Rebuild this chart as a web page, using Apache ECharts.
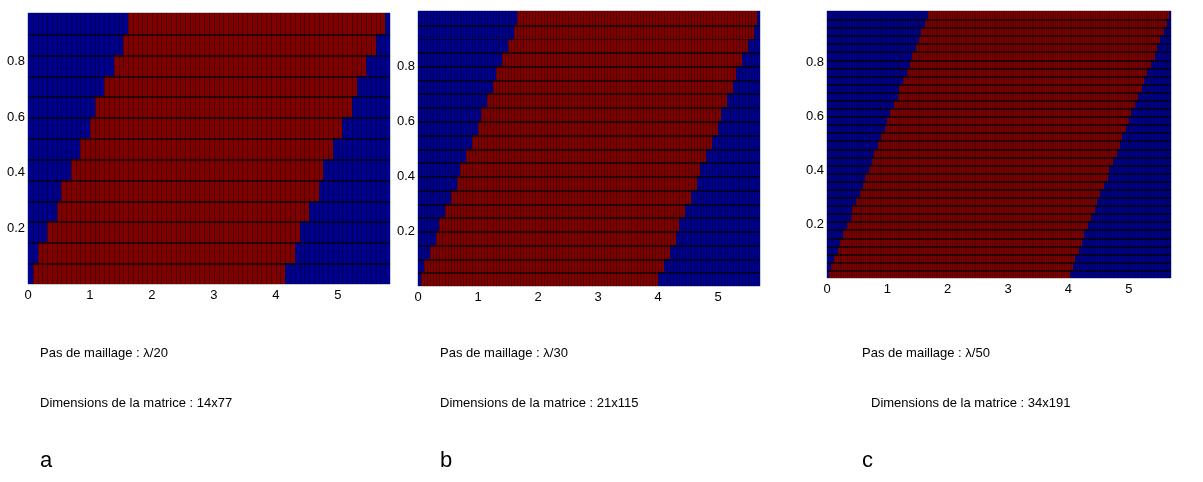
<!DOCTYPE html>
<html><head><meta charset="utf-8">
<script src="https://cdn.jsdelivr.net/npm/echarts@6/dist/echarts.min.js"></script>
<style>html,body{margin:0;padding:0;background:#fff}#c{width:1203px;height:482px}</style>
</head><body><div id="c"></div>
<script>
// ---- Panel a : matrix 14x77 (13 x 76 cells drawn), mesh step lambda/20
const rowsA = 13, colsA = 76, xMaxA = 5.84, yMaxA = 0.975;
const redStartA = [1,2,4,6,7,9,11,13,14,16,18,20,21];          // first red column, bottom row first
const redEndA   = [54,56,57,59,61,62,64,66,68,69,71,73,75];    // first blue column after red

// ---- Panel b : matrix 21x115 (20 x 114 cells drawn), mesh step lambda/30
const rowsB = 20, colsB = 114, xMaxB = 5.7, yMaxB = 1.0;
const redStartB = [1,2,4,6,7,9,11,13,14,16,18,20,21,23,25,26,28,30,32,33];
const redEndB   = [80,82,84,86,87,89,91,93,94,96,98,100,101,103,105,106,108,110,112,113];

// ---- Panel c : matrix 34x191 (33 x 190 cells drawn), mesh step lambda/50
const rowsC = 33, colsC = 190, xMaxC = 5.7, yMaxC = 0.99;
const redStartC = [1,2,4,6,7,9,11,13,14,16,18,20,21,23,25,26,28,30,32,33,35,37,39,40,42,44,46,47,49,51,52,54,56];
const redEndC   = [134,136,137,139,141,142,144,146,148,149,151,153,155,156,158,160,162,163,165,167,168,170,172,174,175,177,179,181,182,184,186,188,189];

// ---- texts
const captionsStep = ['Pas de maillage : λ/20', 'Pas de maillage : λ/30', 'Pas de maillage : λ/50'];
const captionsDim  = ['Dimensions de la matrice : 14x77', 'Dimensions de la matrice : 21x115', 'Dimensions de la matrice : 34x191'];
const panelLetters = ['a', 'b', 'c'];
const xTicks = [0,1,2,3,4,5];

const BLUE = '#00008f', RED = '#800000';
const FONT = 'Liberation Sans, Arial, sans-serif';

function buildCells(rows, cols, xMax, yMax, starts, ends) {
  const dx = xMax / cols, dy = yMax / rows, out = [];
  for (let r = 0; r < rows; r++) {
    for (let j = 0; j < cols; j++) {
      const v = (j >= starts[r] && j < ends[r]) ? 1 : 0;
      out.push([j * dx, r * dy, v]);
    }
  }
  return { data: out, dx: dx, dy: dy };
}

// each cell: filled rect + mesh edge on its left and on its top (pcolor edges)
function cellRender(dx, dy, yMax, vAlpha, hAlpha, hWidth) {
  return function (params, api) {
    const x = api.value(0), y = api.value(1), v = api.value(2);
    const p0 = api.coord([x, y + dy]);
    const p1 = api.coord([x + dx, y]);
    const x0 = Math.round(p0[0]), y0 = Math.round(p0[1]);
    const x1 = Math.round(p1[0]), y1 = Math.round(p1[1]);
    const w = Math.max(1, x1 - x0), h = Math.max(1, y1 - y0);
    const children = [
      { type: 'rect', shape: { x: x0, y: y0, width: w, height: h }, style: { fill: v ? RED : BLUE } }
    ];
    if (x > 1e-9) children.push({ type: 'rect', shape: { x: x0, y: y0, width: 1, height: h },
      style: { fill: 'rgba(0,0,0,' + vAlpha + ')' } });
    if (y + dy < yMax - 1e-9) children.push({ type: 'rect', shape: { x: x0, y: y0, width: w, height: hWidth },
      style: { fill: 'rgba(0,0,0,' + hAlpha + ')' } });
    return { type: 'group', children: children };
  };
}

const panels = [
  { grid: { left: 28, top: 13, width: 362, height: 271 }, rows: rowsA, cols: colsA, xMax: xMaxA, yMax: yMaxA, s: redStartA, e: redEndA, va: 0.4, ha: 0.6, hw: 2 },
  { grid: { left: 418, top: 11, width: 342, height: 275 }, rows: rowsB, cols: colsB, xMax: xMaxB, yMax: yMaxB, s: redStartB, e: redEndB, va: 0.35, ha: 0.6, hw: 2 },
  { grid: { left: 827, top: 11, width: 344, height: 267 }, rows: rowsC, cols: colsC, xMax: xMaxC, yMax: yMaxC, s: redStartC, e: redEndC, va: 0.25, ha: 0.65, hw: 2 }
];

const grids = [], xAxes = [], yAxes = [], series = [];
panels.forEach(function (p, i) {
  grids.push(Object.assign({ show: true, backgroundColor: '#000', borderColor: '#9a9aa8', borderWidth: 1 }, p.grid));
  xAxes.push({
    type: 'value', gridIndex: i, min: 0, max: p.xMax, interval: 1,
    axisLine: { show: false }, axisTick: { show: false }, splitLine: { show: false },
    axisLabel: { color: '#000', fontSize: 13, fontFamily: FONT, margin: 5, showMaxLabel: false,
      formatter: function (v) { return xTicks.indexOf(v) >= 0 ? String(v) : ''; } }
  });
  yAxes.push({
    type: 'value', gridIndex: i, min: 0, max: p.yMax, interval: 0.2,
    axisLine: { show: false }, axisTick: { show: false }, splitLine: { show: false },
    axisLabel: { color: '#000', fontSize: 13, fontFamily: FONT, margin: 3, showMinLabel: false, showMaxLabel: false,
      formatter: function (v) { return (v > 0.01 && v < 0.95) ? v.toFixed(1) : ''; } }
  });
  const built = buildCells(p.rows, p.cols, p.xMax, p.yMax, p.s, p.e);
  series.push({
    type: 'custom', xAxisIndex: i, yAxisIndex: i, progressive: 0, animation: false, silent: true,
    renderItem: cellRender(built.dx, built.dy, p.yMax, p.va, p.ha, p.hw),
    encode: { x: 0, y: 1 },
    data: built.data
  });
});

const textPos = [
  { x: 40, x2: 40 }, { x: 440, x2: 440 }, { x: 862, x2: 871 }
];
const graphics = [];
textPos.forEach(function (t, i) {
  graphics.push({ type: 'text', left: t.x, top: 347, style: { text: captionsStep[i], font: '13px ' + FONT, fill: '#000' } });
  graphics.push({ type: 'text', left: t.x2, top: 397, style: { text: captionsDim[i], font: '13px ' + FONT, fill: '#000' } });
  graphics.push({ type: 'text', left: t.x, top: 450, style: { text: panelLetters[i], font: '22px ' + FONT, fill: '#000' } });
});

const chart = echarts.init(document.getElementById('c'), null, { renderer: 'canvas' });
chart.setOption({
  animation: false,
  backgroundColor: '#fff',
  grid: grids, xAxis: xAxes, yAxis: yAxes, series: series,
  graphic: graphics
});
</script></body></html>
